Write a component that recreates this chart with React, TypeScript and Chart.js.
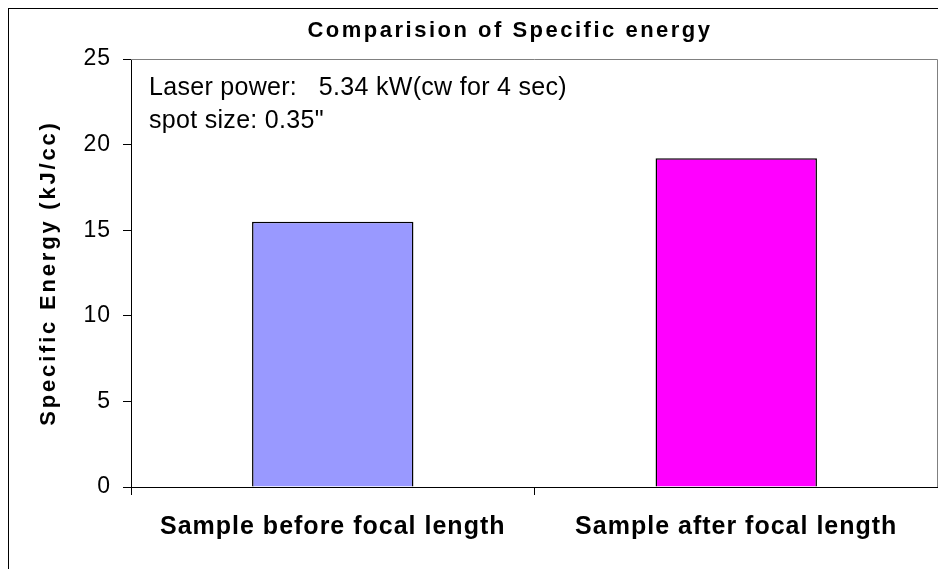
import React, { useEffect, useRef } from 'react';
import { Chart, registerables } from 'chart.js';

Chart.register(...registerables);

const categories = ['Sample before focal length', 'Sample after focal length'];
const specificEnergy = [15.5, 19.2];
const barColors = ['#9999FF', '#FF00FF'];
const yTicks = [0, 5, 10, 15, 20, 25];
const titleText = 'Comparision of Specific energy';
const yAxisTitle = 'Specific Energy (kJ/cc)';
const noteLines = ['Laser power:   5.34 kW(cw for 4 sec)', 'spot size: 0.35"'];

const FONT = '"Liberation Sans", Arial, Helvetica, sans-serif';

const spacingPlugin = {
  id: 'letterSpacingPatch',
  afterLayout(chart: any) {
    const wrap = (obj: any, key: string, sp: string) => {
      if (!obj || obj['__wrapped_' + key]) return;
      const orig = obj[key];
      obj[key] = function (...args: any[]) {
        const c = chart.ctx;
        c.save();
        c.letterSpacing = sp;
        orig.apply(this, args);
        c.restore();
      };
      obj['__wrapped_' + key] = true;
    };
    wrap(chart.titleBlock, 'draw', '2.5px');
    wrap(chart.scales.x, 'drawLabels', '1px');
    wrap(chart.scales.y, 'drawLabels', '1px');
    wrap(chart.scales.y, 'drawTitle', '2.8px');
  },
};

const framePlugin = {
  id: 'framePlugin',
  beforeDraw(chart: any) {
    const { ctx, width, height } = chart;
    ctx.save();
    ctx.fillStyle = '#ffffff';
    ctx.fillRect(0, 0, width, height);
    ctx.restore();
  },
  afterDraw(chart: any) {
    const { ctx, chartArea, width, height } = chart;
    ctx.save();
    // outer chart frame
    ctx.strokeStyle = '#000000';
    ctx.lineWidth = 1;
    ctx.strokeRect(0.5, 0.5, width - 1, height - 1);
    // plot-area top and right edges
    ctx.strokeStyle = '#808080';
    ctx.beginPath();
    const t = Math.round(chartArea.top) + 0.5;
    const r = Math.round(chartArea.right) - 0.5;
    ctx.moveTo(Math.round(chartArea.left), t);
    ctx.lineTo(r, t);
    ctx.lineTo(r, Math.round(chartArea.bottom));
    ctx.stroke();
    // annotation text
    ctx.letterSpacing = '0.3px';
    ctx.fillStyle = '#000000';
    ctx.font = `25px ${FONT}`;
    ctx.textAlign = 'left';
    ctx.textBaseline = 'alphabetic';
    noteLines.forEach((line, i) => {
      ctx.fillText(line, chartArea.left + 18, chartArea.top + 36 + i * 33);
    });
    ctx.restore();
  },
};

export default function App() {
  const canvasRef = useRef<HTMLCanvasElement | null>(null);

  useEffect(() => {
    if (!canvasRef.current) return;
    const chart = new Chart(canvasRef.current, {
      type: 'bar',
      data: {
        labels: categories,
        datasets: [
          {
            data: specificEnergy,
            backgroundColor: barColors,
            borderColor: '#000000',
            borderWidth: 1.5,
            barPercentage: 0.4,
            categoryPercentage: 1,
          },
        ],
      },
      options: {
        animation: false,
        responsive: true,
        maintainAspectRatio: false,
        layout: { padding: 0 },
        plugins: {
          legend: { display: false },
          tooltip: { enabled: false },
          title: {
            display: true,
            text: titleText,
            color: '#000000',
            font: { family: FONT, size: 22, weight: 'bold', lineHeight: 1.2 },
            padding: { top: 10, bottom: 14.6 },
          },
        },
        scales: {
          x: {
            grid: {
              display: true,
              drawOnChartArea: false,
              drawTicks: true,
              tickLength: 8,
              color: '#000000',
              offset: true,
            },
            border: { display: true, color: '#000000', width: 1 },
            ticks: {
              color: '#000000',
              font: { family: FONT, size: 25, weight: 'bold', lineHeight: 1.2 },
              padding: 17,
              maxRotation: 0,
            },
            afterFit: (scale: any) => {
              scale.height = 101;
            },
          },
          y: {
            min: yTicks[0],
            max: yTicks[yTicks.length - 1],
            grid: {
              display: true,
              drawOnChartArea: false,
              drawTicks: true,
              tickLength: 8,
              color: '#000000',
            },
            border: { display: true, color: '#000000', width: 1 },
            ticks: {
              stepSize: yTicks[1] - yTicks[0],
              color: '#000000',
              font: { family: FONT, size: 23, lineHeight: 1.2 },
              padding: 12,
            },
            title: {
              display: true,
              text: yAxisTitle,
              color: '#000000',
              font: { family: FONT, size: 22, weight: 'bold', lineHeight: 1.2 },
              padding: { top: 28, bottom: 0 },
            },
            afterFit: (scale: any) => {
              scale.width = 123;
            },
          },
          spacer: {
            type: 'linear',
            position: 'right',
            display: true,
            grid: { display: false },
            border: { display: false },
            ticks: { display: false },
            afterFit: (scale: any) => {
              scale.width = 74;
            },
          },
        },
      },
      plugins: [spacingPlugin, framePlugin],
    } as any);
    return () => chart.destroy();
  }, []);

  return (
    <div style={{ width: 938, height: 561, overflow: 'hidden', background: '#fff' }}>
      <div style={{ position: 'relative', width: 1004, height: 580 }}>
        <canvas ref={canvasRef} />
      </div>
    </div>
  );
}
